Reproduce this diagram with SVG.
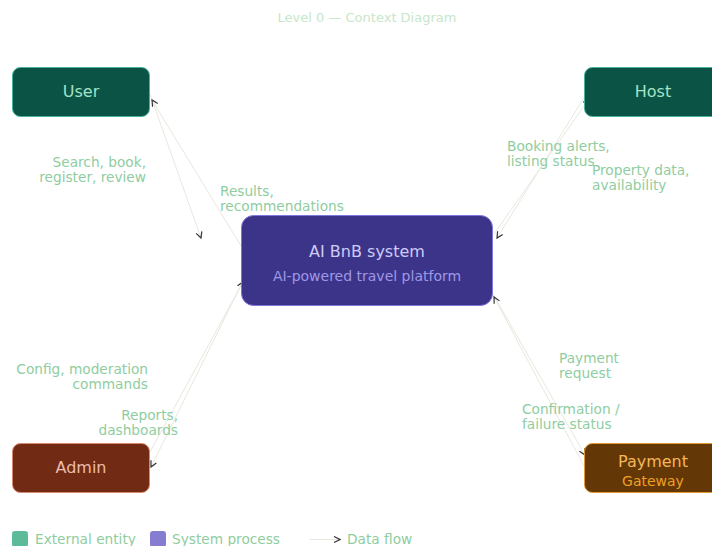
<svg xmlns="http://www.w3.org/2000/svg" width="712" height="546" viewBox="0 0 712 546">
<defs>
<marker id="arr" viewBox="0 0 8 8" refX="7" refY="4" markerWidth="8" markerHeight="8" markerUnits="userSpaceOnUse" orient="auto">
<path d="M1,1 L7,4 L1,7" fill="none" stroke="#333" stroke-width="1.2"/>
</marker>
<style>
text{font-family:"DejaVu Sans",Verdana,sans-serif}
.ext{fill:#0b5345;stroke:#45b39d;stroke-width:1}
.lbl{font-size:13.7px;fill:#8fcda0}
.flow{fill:none;stroke:#e8e8df;stroke-width:1;marker-end:url(#arr)}
.nt{font-size:16px;text-anchor:middle}
</style>
</defs>
<rect width="712" height="546" fill="#ffffff"/>
<text x="367" y="22" text-anchor="middle" font-size="13" fill="#c8e6c9">Level 0 — Context Diagram</text>

<g id="connectors">
<line class="flow" x1="150" y1="94" x2="201" y2="238"/>
<line class="flow" x1="241" y1="246" x2="152" y2="100"/>
<line class="flow" x1="585" y1="96" x2="497" y2="238"/>
<line class="flow" x1="494" y1="234" x2="589" y2="99"/>
<line class="flow" x1="242" y1="283" x2="151" y2="467"/>
<line class="flow" x1="150" y1="452" x2="243" y2="282"/>
<line class="flow" x1="493" y1="294" x2="585" y2="455"/>
<line class="flow" x1="584" y1="466" x2="494" y2="297"/>
</g>

<g id="flow-labels" class="lbl">
<text x="146" y="167" text-anchor="end">Search, book,</text>
<text x="146" y="182" text-anchor="end">register, review</text>
<text x="220" y="196">Results,</text>
<text x="220" y="211">recommendations</text>
<text x="507" y="151">Booking alerts,</text>
<text x="507" y="166">listing status</text>
<text x="592" y="175">Property data,</text>
<text x="592" y="190">availability</text>
<text x="148" y="374" text-anchor="end">Config, moderation</text>
<text x="148" y="389" text-anchor="end">commands</text>
<text x="178" y="420" text-anchor="end">Reports,</text>
<text x="178" y="435" text-anchor="end">dashboards</text>
<text x="559" y="363">Payment</text>
<text x="559" y="378">request</text>
<text x="522" y="414">Confirmation /</text>
<text x="522" y="429">failure status</text>
</g>

<g id="user">
<rect class="ext" x="12.5" y="67.5" width="137" height="49" rx="8"/>
<text class="nt" x="81" y="97" fill="#a3e4c7">User</text>
</g>
<g id="host">
<rect class="ext" x="584.5" y="67.5" width="137" height="49" rx="8"/>
<text class="nt" x="653" y="97" fill="#a3e4c7">Host</text>
</g>
<g id="admin">
<rect x="12.5" y="443.5" width="137" height="49" rx="8" fill="#712b14" stroke="#d98870" stroke-width="1"/>
<text class="nt" x="81" y="473" fill="#ecbcae">Admin</text>
</g>
<g id="payment">
<rect x="584.5" y="443.5" width="137" height="49" rx="8" fill="#633806" stroke="#e59a32" stroke-width="1"/>
<text class="nt" x="653" y="467" fill="#f5b55a">Payment</text>
<text x="653" y="486" text-anchor="middle" font-size="14" fill="#ef9f27">Gateway</text>
</g>
<g id="system">
<rect x="241.5" y="215.5" width="251" height="90" rx="12" fill="#3c3489" stroke="#7f77dd" stroke-width="1"/>
<text class="nt" x="367" y="257" fill="#cecbf6">AI BnB system</text>
<text x="367" y="281" text-anchor="middle" font-size="14" fill="#9f98e6">AI-powered travel platform</text>
</g>

<g id="legend">
<rect x="12" y="531" width="16" height="16" rx="3" fill="#5dbb9a"/>
<text x="35" y="544" font-size="13.7" fill="#8fcda0">External entity</text>
<rect x="150" y="531" width="16" height="16" rx="3" fill="#877dd0"/>
<text x="172" y="544" font-size="13.7" fill="#8fcda0">System process</text>
<line x1="310" y1="539.5" x2="340" y2="539.5" stroke="#e8e8df" stroke-width="1" marker-end="url(#arr)"/>
<text x="347" y="544" font-size="13.7" fill="#8fcda0">Data flow</text>
</g>
</svg>
